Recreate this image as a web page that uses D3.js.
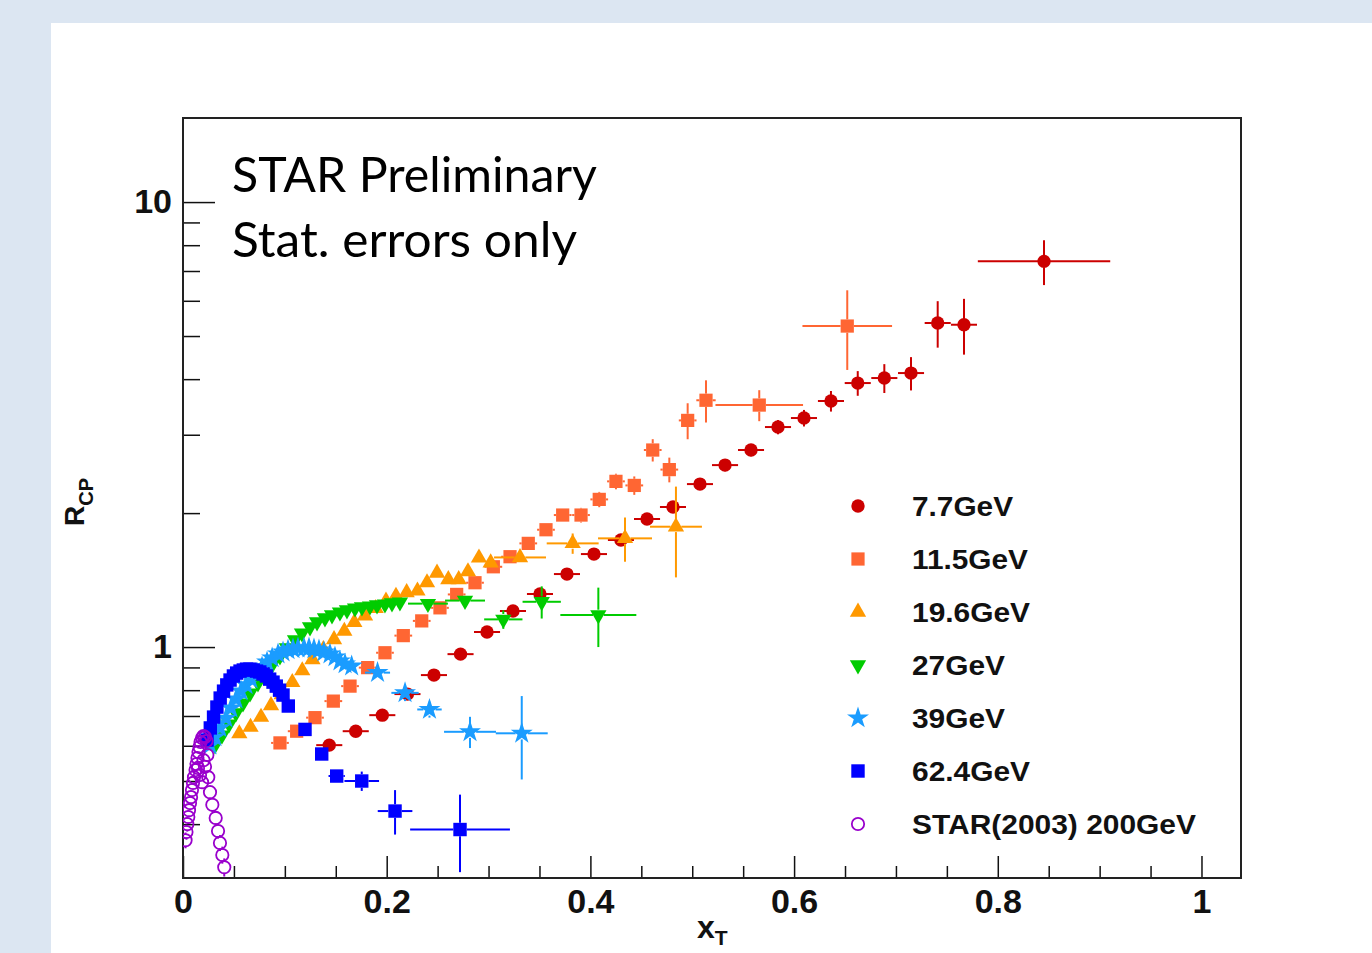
<!DOCTYPE html>
<html><head><meta charset="utf-8">
<script src="https://cdn.jsdelivr.net/npm/d3@7"></script>
<style>html,body{margin:0;padding:0;background:#dce6f2;overflow:hidden}</style>
</head><body>
<svg id="c" width="1372" height="953"></svg>
<script>
// ---------------- data ----------------
const x77 = [0.1436,0.1696,0.1957,0.2204,0.2464,0.2725,0.2985,0.3240,0.3505,0.3770,0.4035,0.4300,0.4556,0.4811,0.5076,0.5322,0.5577,0.5842,0.6097,0.6362,0.6625,0.6886,0.7148,0.7410,0.7668,0.8454];
const y77 = [0.602,0.647,0.703,0.784,0.865,0.964,1.081,1.205,1.316,1.459,1.618,1.740,1.940,2.064,2.324,2.564,2.772,3.122,3.271,3.572,3.920,4.023,4.128,5.348,5.301,7.358];
const ex77 = [0.0128,0.0128,0.0128,0.0128,0.0128,0.0128,0.0128,0.0128,0.0128,0.0128,0.0128,0.0128,0.0128,0.0128,0.0128,0.0128,0.0128,0.0128,0.0128,0.0128,0.0128,0.0128,0.0128,0.0128,0.0128,0.065];
const ey77 = [0.01,0.01,0.011,0.012,0.014,0.015,0.017,0.019,0.021,0.023,0.026,0.03,0.04,0.054,0.06,0.08,0.087,0.115,0.14,0.19,0.25,0.30,0.355,0.64,0.76,0.85];

const x115 = [0.0952,0.1116,0.1296,0.1476,0.1640,0.1813,0.1983,0.2163,0.2344,0.2523,0.2687,0.2867,0.3047,0.3211,0.3390,0.3564,0.3728,0.3908,0.4087,0.4251,0.4431,0.4612,0.4775,0.4955,0.5135,0.5658,0.6522];
const y115 = [0.609,0.647,0.694,0.756,0.817,0.899,0.971,1.061,1.145,1.225,1.313,1.395,1.515,1.596,1.710,1.835,1.980,1.980,2.147,2.357,2.308,2.772,2.505,3.231,3.586,3.498,5.265];
const ex115 = [0.0087,0.0087,0.0087,0.0087,0.0087,0.0087,0.0087,0.0087,0.0087,0.0087,0.0087,0.0087,0.0087,0.0087,0.0087,0.0087,0.0087,0.0087,0.0087,0.0087,0.0087,0.0087,0.0087,0.0087,0.0095,0.043,0.044];
const ey115 = [0.012,0.012,0.013,0.014,0.015,0.017,0.018,0.02,0.022,0.025,0.028,0.032,0.037,0.042,0.048,0.055,0.065,0.075,0.085,0.095,0.11,0.16,0.16,0.30,0.39,0.28,1.07];

const x196 = [0.0553,0.0663,0.0766,0.0864,0.0969,0.1073,0.1171,0.1271,0.1378,0.1483,0.1584,0.1682,0.1787,0.1892,0.1993,0.2091,0.2196,0.2302,0.2396,0.2494,0.2605,0.2707,0.2798,0.2906,0.3021,0.3309,0.3826,0.4340,0.4840];
const y196 = [0.639,0.661,0.696,0.739,0.782,0.833,0.885,0.937,0.988,1.040,1.086,1.136,1.176,1.222,1.269,1.302,1.326,1.338,1.396,1.467,1.419,1.419,1.478,1.587,1.547,1.590,1.710,1.755,1.864];
const ex196 = [0.0051,0.0051,0.0051,0.0051,0.0051,0.0051,0.0051,0.0051,0.0051,0.0051,0.0051,0.0051,0.0051,0.0051,0.0051,0.0051,0.0051,0.0051,0.0051,0.0051,0.0051,0.0051,0.0051,0.0051,0.0051,0.0255,0.0255,0.0265,0.0255];
const ey196 = [0.01,0.01,0.011,0.012,0.012,0.013,0.014,0.015,0.016,0.017,0.018,0.019,0.02,0.021,0.022,0.023,0.024,0.025,0.027,0.028,0.03,0.031,0.033,0.036,0.04,0.04,0.09,0.2,0.43];

const x27 = [0.0314,0.0383,0.0452,0.0520,0.0589,0.0658,0.0736,0.0805,0.0874,0.0952,0.1021,0.1100,0.1168,0.1247,0.1316,0.1394,0.1463,0.1541,0.1610,0.1689,0.1757,0.1836,0.1905,0.1983,0.2052,0.2130,0.2405,0.2769,0.3145,0.3522,0.4078];
const y27 = [0.602,0.634,0.671,0.711,0.748,0.788,0.830,0.870,0.911,0.954,0.995,1.037,1.075,1.109,1.138,1.162,1.180,1.198,1.211,1.223,1.230,1.236,1.243,1.249,1.256,1.262,1.252,1.272,1.154,1.264,1.180];
const ex27 = [0.0037,0.0037,0.0037,0.0037,0.0037,0.0037,0.0037,0.0037,0.0037,0.0037,0.0037,0.0037,0.0037,0.0037,0.0037,0.0037,0.0037,0.0037,0.0037,0.0037,0.0037,0.0037,0.0037,0.0037,0.0037,0.0037,0.0196,0.0196,0.0188,0.0188,0.0373];
const ey27 = [0.006,0.006,0.006,0.007,0.007,0.007,0.008,0.008,0.008,0.009,0.009,0.009,0.01,0.01,0.01,0.011,0.011,0.011,0.012,0.012,0.012,0.013,0.013,0.014,0.014,0.015,0.012,0.015,0.055,0.105,0.18];

const x39 = [0.0265,0.0314,0.0363,0.0422,0.0471,0.0521,0.0570,0.0619,0.0668,0.0727,0.0776,0.0825,0.0875,0.0933,0.0982,0.1031,0.1080,0.1129,0.1188,0.1237,0.1286,0.1335,0.1384,0.1443,0.1492,0.1541,0.1591,0.1656,0.1910,0.2180,0.2420,0.2818,0.3326];
const y39 = [0.602,0.628,0.658,0.692,0.729,0.764,0.796,0.822,0.847,0.874,0.902,0.925,0.945,0.964,0.974,0.985,0.990,0.995,0.995,0.995,0.990,0.985,0.974,0.964,0.950,0.930,0.916,0.906,0.876,0.789,0.724,0.645,0.640];
const ex39 = [0.0026,0.0026,0.0026,0.0026,0.0026,0.0026,0.0026,0.0026,0.0026,0.0026,0.0026,0.0026,0.0026,0.0026,0.0026,0.0026,0.0026,0.0026,0.0026,0.0026,0.0026,0.0026,0.0026,0.0026,0.0026,0.0026,0.0026,0.006,0.0123,0.0134,0.012,0.0255,0.0255];
const ey39 = [0.005,0.005,0.005,0.005,0.005,0.005,0.005,0.005,0.005,0.005,0.005,0.005,0.005,0.005,0.005,0.005,0.005,0.005,0.005,0.005,0.005,0.005,0.005,0.005,0.005,0.005,0.005,0.008,0.012,0.033,0.03,0.052,0.136];

const x624 = [0.0236,0.0268,0.0300,0.0333,0.0365,0.0398,0.0430,0.0462,0.0495,0.0527,0.0560,0.0592,0.0624,0.0657,0.0689,0.0722,0.0754,0.0786,0.0819,0.0851,0.0884,0.0916,0.0948,0.0982,0.1034,0.1198,0.1362,0.1509,0.1755,0.2082,0.2720];
const y624 = [0.618,0.658,0.696,0.733,0.768,0.796,0.822,0.843,0.861,0.874,0.883,0.888,0.892,0.892,0.888,0.883,0.879,0.870,0.861,0.847,0.834,0.817,0.800,0.780,0.737,0.653,0.575,0.513,0.500,0.428,0.389];
const ex624 = [0.0016,0.0016,0.0016,0.0016,0.0016,0.0016,0.0016,0.0016,0.0016,0.0016,0.0016,0.0016,0.0016,0.0016,0.0016,0.0016,0.0016,0.0016,0.0016,0.0016,0.0016,0.0016,0.0016,0.0016,0.005,0.005,0.006,0.008,0.017,0.017,0.049];
const ey624 = [0.005,0.005,0.005,0.005,0.005,0.005,0.005,0.005,0.005,0.005,0.005,0.005,0.005,0.005,0.005,0.005,0.005,0.005,0.005,0.005,0.005,0.005,0.005,0.005,0.008,0.008,0.01,0.01,0.025,0.049,0.077];

const x200 = [0.0025,0.0034,0.0042,0.0052,0.0059,0.0069,0.0079,0.0088,0.0098,0.0108,0.0123,0.0133,0.0142,0.0147,0.0152,0.0162,0.0167,0.0172,0.0187,0.0187,0.0201,0.0201,0.0216,0.0216,0.0231,0.0239,0.0248,0.0265,0.0288,0.0321,0.0344,0.0363,0.0386,0.0405];
const y200 = [0.368,0.384,0.400,0.415,0.430,0.446,0.460,0.477,0.495,0.510,0.529,0.546,0.563,0.535,0.581,0.596,0.516,0.612,0.625,0.497,0.631,0.557,0.628,0.538,0.615,0.572,0.510,0.472,0.442,0.413,0.386,0.363,0.341,0.320];
const ey200 = [0.015,0.015,0.015,0.015,0.015,0.015,0.015,0.015,0.015,0.015,0.015,0.015,0.015,0.015,0.015,0.015,0.015,0.015,0.015,0.015,0.015,0.015,0.015,0.015,0.015,0.015,0.015,0.015,0.015,0.015,0.015,0.015,0.015,0.015];

const seriesNames = ["7.7GeV","11.5GeV","19.6GeV","27GeV","39GeV","62.4GeV","STAR(2003) 200GeV"];
const xMajorTicks = [0,0.2,0.4,0.6,0.8,1];
const xMinorTicks = [0.05,0.1,0.15,0.25,0.3,0.35,0.45,0.5,0.55,0.65,0.7,0.75,0.85,0.9,0.95];
const yMajorTicks = [1,10];
const yMinorTicks = [0.4,0.5,0.6,0.7,0.8,0.9,2,3,4,5,6,7,8,9];
const annotLines = ["STAR Preliminary","Stat. errors only"];

// ---------------- styles ----------------
const styles = [
  {color:"#cc0000", sym:d3.symbolCircle, size:140, rot:0, fill:true},
  {color:"#ff6633", sym:d3.symbolSquare, size:175, rot:0, fill:true},
  {color:"#ff9900", sym:d3.symbolTriangle, size:115, rot:0, fill:true},
  {color:"#00cc00", sym:d3.symbolTriangle, size:115, rot:180, fill:true},
  {color:"#1a9cff", sym:d3.symbolStar, size:150, rot:0, fill:true},
  {color:"#0000ff", sym:d3.symbolSquare, size:180, rot:0, fill:true},
  {color:"#9900cc", sym:d3.symbolCircle, size:120, rot:0, fill:false}
];
const seriesData = [
  [x77,y77,ex77,ey77],[x115,y115,ex115,ey115],[x196,y196,ex196,ey196],
  [x27,y27,ex27,ey27],[x39,y39,ex39,ey39],[x624,y624,ex624,ey624],
  [x200,y200,null,ey200]
];

const svg = d3.select("#c");
svg.append("rect").attr("width",1372).attr("height",953).attr("fill","#dce6f2");
svg.append("rect").attr("x",51).attr("y",23).attr("width",1321).attr("height",930).attr("fill","#fff");

const L=183,R=1241,T=118,B=878;
const xS = d3.scaleLinear().domain([0,1.0388]).range([L,R]);
const yS = d3.scaleLog().domain([0.3027,15.45]).range([B,T]);

svg.append("clipPath").attr("id","clip").append("rect").attr("x",L).attr("y",T).attr("width",R-L).attr("height",B-T);

// axes
const axFont = "'Liberation Sans', Arial, Helvetica, sans-serif";
const gx = svg.append("g").attr("transform",`translate(0,${B})`)
  .call(d3.axisBottom(xS).tickValues(xMajorTicks).tickSize(-22).tickPadding(11).tickFormat(d3.format("~g")));
const gxm = svg.append("g").attr("transform",`translate(0,${B})`)
  .call(d3.axisBottom(xS).tickValues(xMinorTicks).tickSize(-12).tickFormat(""));
const gy = svg.append("g").attr("transform",`translate(${L},0)`)
  .call(d3.axisLeft(yS).tickValues(yMajorTicks).tickSize(-32).tickPadding(11).tickFormat(d3.format("d")));
const gym = svg.append("g").attr("transform",`translate(${L},0)`)
  .call(d3.axisLeft(yS).tickValues(yMinorTicks).tickSize(-17).tickFormat(""));
[gx,gxm,gy,gym].forEach(g=>{
  g.select(".domain").remove();
  g.selectAll(".tick line").attr("stroke","#111").attr("stroke-width",1.5);
  g.selectAll(".tick text").attr("font-family",axFont).attr("font-weight","bold").attr("font-size",34).attr("fill","#111");
});

// frame
svg.append("rect").attr("x",L).attr("y",T).attr("width",R-L).attr("height",B-T)
  .attr("fill","none").attr("stroke","#222").attr("stroke-width",2);

// data
const plot = svg.append("g").attr("clip-path","url(#clip)");
seriesData.forEach((sd,i)=>{
  const [xs,ys,exs,eys] = sd;
  const st = styles[i];
  const g = plot.append("g");
  const half = Math.sqrt(st.size)/2;
  xs.forEach((xv,j)=>{
    const px = xS(xv), py = yS(ys[j]);
    const ex = exs ? exs[j] : 0, ey = eys ? eys[j] : 0;
    const x1 = xS(xv-ex), x2 = xS(xv+ex);
    const y1 = yS(ys[j]+ey), y2 = yS(Math.max(ys[j]-ey,0.01));
    const seg = (a,b,c,d)=>g.append("line").attr("x1",a).attr("y1",b).attr("x2",c).attr("y2",d)
      .attr("stroke",st.color).attr("stroke-width",2);
    if (px-x1>half) seg(x1,py,px-half,py);
    if (x2-px>half) seg(px+half,py,x2,py);
    if (py-y1>half) seg(px,y1,px,py-half);
    if (y2-py>half) seg(px,py+half,px,y2);
  });
  g.selectAll("path.m").data(xs.map((xv,j)=>[xv,ys[j]])).join("path").attr("class","m")
    .attr("d",d3.symbol().type(st.sym).size(st.size))
    .attr("transform",d=>`translate(${xS(d[0])},${yS(d[1])}) rotate(${st.rot})`)
    .attr("fill",st.fill?st.color:"none").attr("stroke",st.fill?"none":st.color).attr("stroke-width",1.8);
});

// legend
const legW = [101,116,118,93,93,118,284];
const lg = svg.append("g");
seriesNames.forEach((n,i)=>{
  const st = styles[i];
  const cy = 506 + i*53;
  lg.append("path").attr("d",d3.symbol().type(st.sym).size(st.size))
    .attr("transform",`translate(858,${cy}) rotate(${st.rot})`)
    .attr("fill",st.fill?st.color:"none").attr("stroke",st.fill?"none":st.color).attr("stroke-width",1.8);
  lg.append("text").attr("x",912).attr("y",cy+10).text(n)
    .attr("font-family",axFont).attr("font-weight","bold").attr("font-size",27).attr("fill","#111")
    .attr("textLength",legW[i]).attr("lengthAdjust","spacingAndGlyphs");
});

// annotation
const annW = [365,345];
annotLines.forEach((t,i)=>{
  svg.append("text").attr("x",232).attr("y",192+i*65).text(t)
    .attr("font-family","Lato, 'Open Sans', sans-serif").attr("font-size",48).attr("fill","#000")
    .attr("textLength",annW[i]).attr("lengthAdjust","spacingAndGlyphs");
});

// axis titles
const xt = svg.append("text").attr("x",697).attr("y",938).attr("font-family",axFont).attr("font-weight","bold").attr("font-size",32).attr("fill","#111");
xt.append("tspan").text("x");
xt.append("tspan").text("T").attr("font-size",21).attr("dy",7);
const yt = svg.append("text").attr("transform","translate(84,526) rotate(-90)").attr("font-family",axFont).attr("font-weight","bold").attr("font-size",28).attr("fill","#111");
yt.append("tspan").text("R");
yt.append("tspan").text("CP").attr("font-size",20).attr("dy",9);
</script>
</body></html>
